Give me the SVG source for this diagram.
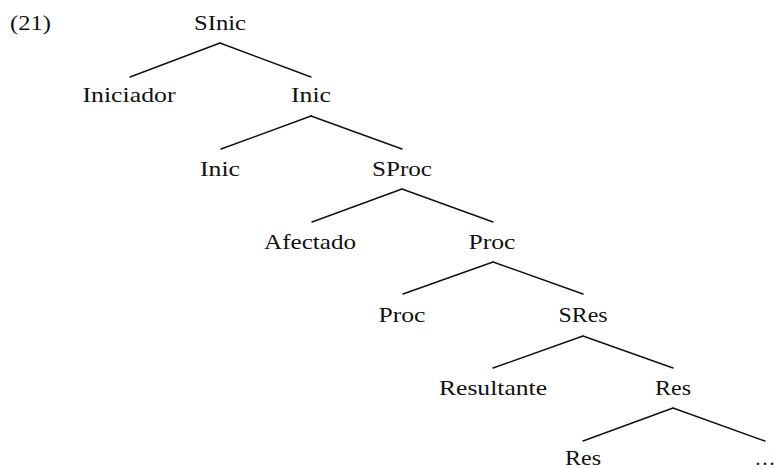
<svg xmlns="http://www.w3.org/2000/svg" width="774" height="469" viewBox="0 0 774 469">
<style>
text{font-family:'Liberation Serif','DejaVu Serif','Times New Roman',serif;font-size:21px;fill:#111;text-anchor:middle}
.e line{stroke:#111;stroke-width:1.4;stroke-linecap:round}
</style>
<rect width="774" height="469" fill="#fff"/>
<text x="30.5" y="30" textLength="41" lengthAdjust="spacingAndGlyphs">(21)</text>
<g class="e" id="edges">
<line x1="220" y1="43" x2="130" y2="77"/>
<line x1="220" y1="43" x2="311" y2="77"/>
<line x1="311" y1="116" x2="221" y2="149"/>
<line x1="311" y1="116" x2="402" y2="149"/>
<line x1="402" y1="189" x2="312" y2="222"/>
<line x1="402" y1="189" x2="493" y2="222"/>
<line x1="493" y1="262" x2="403" y2="294"/>
<line x1="493" y1="262" x2="583" y2="294"/>
<line x1="583" y1="336" x2="493" y2="368"/>
<line x1="583" y1="336" x2="673" y2="368"/>
<line x1="673" y1="408" x2="583" y2="441"/>
<line x1="673" y1="408" x2="765" y2="441"/>
</g>
<g id="n-sinic"><text x="220" y="30" textLength="52" lengthAdjust="spacingAndGlyphs">SInic</text></g>
<g id="n-iniciador"><text x="129" y="102" textLength="93" lengthAdjust="spacingAndGlyphs">Iniciador</text></g>
<g id="n-inic1"><text x="311" y="102" textLength="40" lengthAdjust="spacingAndGlyphs">Inic</text></g>
<g id="n-inic2"><text x="220" y="176" textLength="40" lengthAdjust="spacingAndGlyphs">Inic</text></g>
<g id="n-sproc"><text x="402" y="176" textLength="60" lengthAdjust="spacingAndGlyphs">SProc</text></g>
<g id="n-afectado"><text x="310" y="249" textLength="92" lengthAdjust="spacingAndGlyphs">Afectado</text></g>
<g id="n-proc1"><text x="492" y="249" textLength="47" lengthAdjust="spacingAndGlyphs">Proc</text></g>
<g id="n-proc2"><text x="402" y="322" textLength="47" lengthAdjust="spacingAndGlyphs">Proc</text></g>
<g id="n-sres"><text x="583" y="322" textLength="49" lengthAdjust="spacingAndGlyphs">SRes</text></g>
<g id="n-resultante"><text x="493" y="395" textLength="108" lengthAdjust="spacingAndGlyphs">Resultante</text></g>
<g id="n-res1"><text x="673" y="395" textLength="36" lengthAdjust="spacingAndGlyphs">Res</text></g>
<g id="n-res2"><text x="583" y="465" textLength="36" lengthAdjust="spacingAndGlyphs">Res</text></g>
<g id="n-dots"><text x="765" y="465">…</text></g>
</svg>
